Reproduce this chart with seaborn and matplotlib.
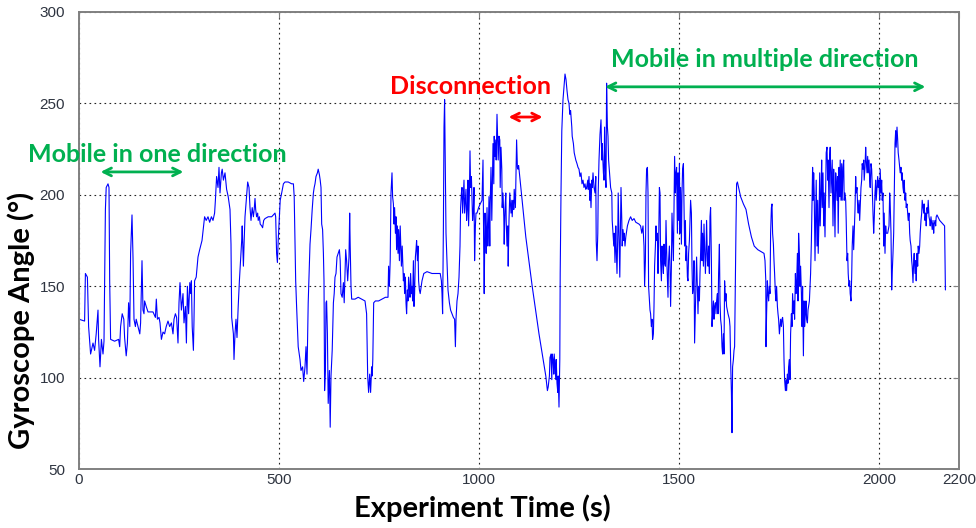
import pandas as pd
import seaborn as sns
import matplotlib.pyplot as plt

# gyroscope trace, (time s, angle deg), split in chunks
seg_a = [(0,132),(14,131),(16,157),(21,155),(24,128),(29,113),(35,119),(39,115),(43,124),(47.5,137),(49,121),(52.5,106),
         (56,121),(60,113),(62.5,120),(66,192),(68,204),(72.5,206),(75,204),(76.7,153),(79,121),(89,120),(99,121),
         (101.7,117),(104,128),(108,135),(112,132),(114,122),(118,112),(121,119),(124,141),(127,128),(129,168),
         (132.5,189),(135,166),(137.5,132),(141,128),(143,132),(147.5,128),(152,124),(154,130),(157.5,164),(160,137),
         (162.5,135),(164,142),(168,139),(172.5,136),(185,136),(191,133),(193.3,143),(196,132),(200,133),(202.5,130),
         (206,121),(210,125),(214,124),(218,128),(222.5,131),(226.7,128),(231,130),(235,124),(237.5,132),(241,135),
         (244,133),(247.5,119),(250,141),(252.5,152),(256,137),(260,146),(262.5,130),(266,139),(268.5,119),(271,150),
         (274,135),(277,152),(279,146),(281,153),(283,128),(286,115),(287.5,132),(289,153),(293,155),(297.5,166),
         (301.7,170),(307.5,175),(314,188),(318,186),(322.5,188),(326.7,185),(331,188),(335,186),(339,190),(341,197),
         (344,210),(347.5,204),(350,215),(352.5,201),(356,212),(358,214),(361,208)]
seg_b = [(365,212),(369,203),(373,199),(377.5,192),(380,173),(381.7,133),(386,124),(387.5,110),(390,124),(392.5,132),
         (395,122),(398,139),(401,153),(403,161),(406.7,175),(408,183),(411,161),(412.5,172),(415,188),(419,199),
         (421.7,207),(425,204),(427.5,193),(430,186),(433,193),(436,188),(438,192),(440,198),(441.7,192),(444,188),
         (446.7,190),(448,186),(451,188),(453,184),(456.7,183),(459,182),(461.7,186),(465,187),(473,188),(481.7,188),
         (490,190),(491.7,188),(494,168),(496,163),(498,175),(501,188),(503,197),(506.7,201),(511,206),(515,207),
         (523,207),(531.7,206),(536,206),(538,199),(541.7,153),(544,139),(548,117),(552.5,110),(555,104),(559,106),
         (561.7,98),(565,106),(567.5,117),(570,102),(573,141),(577.5,173),(580,181),(583,192),(586,201),(588,204),
         (590,206),(592.5,210),(596,212),(598,214),(601,211),(603,208),(605,204),(606.7,184),(609,181),(611,168),
         (612.5,153),(614,93),(616,104),(617.5,141),(619,142),(621,124),(623,86),(626,104),(628,73),(630,101),(633,115),
         (636,141),(638,146),(640,155),(642.5,157),(645,166),(648,168),(651,170),(653,164),(655,146),(658,144),(661,152),
         (663,141),(666.7,170),(669,164),(671.7,153),(675,166),(676.7,190),(678,172),(680,150),(681.7,143),(690,143),
         (698,144),(706.7,143),(715,142),(719,135),(721.7,101),(724,92),(726.7,102),(729,92),(731.7,106),(733,101)]
seg_c = [(734.5,110),(736.7,141),(741,142),(749,142),(757.5,143),(766,144),(772.5,144),(774,161),(776,150),(778,164),
         (780,201),(782.5,212),(784,199),(786,195),(787.5,184),(789,193),(791,179),(792.5,188),(794,170),(796,183),
         (797.5,168),(799,181),(801,164),(803,183),(806,161),(808,172),(811,153),(812.5,157),(814,146),(816,155),
         (817.5,141),(819,135),(821,148),(822.5,142),(824,155),(826,148),(827.5,144),(829,157),(831,146),(832.5,150),
         (834,142),(836,164),(837.5,139),(839,146),(841,166),(842.5,170),(844,175),(846,164),(847.5,172),(849,153),
         (851,148),(853,146),(857.5,153),(862,157),(870,158),(882.5,157),(895,157),(903,157),(906,153),(907.5,146),
         (909,135),(911,183),(912.5,237),(914,252),(916,212),(917.5,179),(920,164),(922.5,148),(926,141),(929,137),
         (932.5,135),(936,133),(939,132),(941,117),(942.5,132),(945,142),(947.5,146),(950,155),(952.5,172),(954,193),
         (956,201),(957.5,204),(959,190),(961,201),(962.5,208),(964,190),(966,197),(967.5,203),(969,186),(971,193),
         (972.5,208),(974,183),(976,201),(977.5,224),(979,204),(981,210),(982.5,197),(984,186),(986,192),(987.5,204),
         (989,164),(991,183),(992.5,190),(995,190),(999,193),(1003,195),(1007.5,197),(1010,219),(1011.7,172),(1013,146),
         (1015,190),(1017,179),(1018,168),(1020,193),(1022,172),(1023,177),(1025,199),(1027,172),(1028,195),(1030,215),
         (1032,186),(1033,201),(1035,228),(1037,206),(1038,232),(1040,221),(1042,230),(1043,219),(1045,244),(1047,226),
         (1048,219),(1050,232),(1052,230),(1053,204),(1055,226),(1057,214),(1058,193),(1060,201),(1062,188),(1063,173),
         (1065,192),(1067,201),(1068,186),(1070,172),(1072,183),(1073,161),(1075,186),(1077,201),(1078,197),(1080,190),
         (1082,197),(1083,188),(1085,197),(1087,192),(1088,203),(1091,193),(1092.5,210),(1094,230),(1096,215),
         (1097.5,214),(1099,216)]
seg_d = [(1100,214),(1117,177),(1133,150),(1150,124),(1167,101),(1171,93),(1173,95),(1176,101),(1177.5,111),(1180,113),
         (1182,99),(1183,113),(1185,110),(1187,102),(1188,113),(1190,106),(1192,99),(1193,110),(1195,97),(1197,92),
         (1198,101),(1200,84),(1202,110),(1203,157),(1205,201),(1207,235),(1208,241),(1210,252),(1212.5,259),(1215,266),
         (1217.5,263),(1220,257),(1222.5,252),(1225,250),(1227,244),(1229,246),(1232,237),(1233,232),(1236,228),(1238,223),
         (1242,219),(1245,217),(1247.5,215),(1250,214),(1252.5,210),(1255,212),(1257.5,206),(1260,208),(1262.5,204),
         (1265,206),(1267,203),(1269,204),(1272,208),(1273,203),(1275,210),(1277,197),(1278,206),(1280,193),(1282,208),
         (1283,204),(1285,212),(1287.5,204),(1290,201),(1292,210),(1293,175),(1295,164),(1297,179),(1298,201),(1300,219),
         (1302.5,233),(1305,241),(1307,219),(1308,228),(1311,212),(1312.5,208),(1314,237),(1316,210),(1317.5,204),
         (1319,261),(1321,237),(1322.5,232),(1324,219),(1327,210),(1329,204),(1332,201),(1333,186),(1335,179),(1337,172),
         (1338,179),(1340,163),(1342,183),(1343,172),(1345,157),(1347,179),(1348,201),(1350,179),(1352,155),(1353,173),
         (1355,204),(1357,186),(1358,172),(1360,181),(1362,175),(1363,179),(1365,172),(1367,177),(1371,183),(1375,186),
         (1379,188),(1383,186),(1387.5,187),(1392,185),(1400,184),(1404,183),(1407,179),(1410,183),(1412.5,172),
         (1414,150),(1416,164),(1417.5,201),(1419,214),(1421,215),(1422.5,201),(1424,150),(1426,142),(1427.5,137),
         (1429,135),(1431,128),(1432.5,132),(1434,121),(1436,124),(1437.5,139),(1439,161),(1441,172),(1442.5,183),
         (1444,175),(1446,179),(1447.5,157),(1449,172),(1451,204),(1452.5,201),(1454,164),(1456,153),(1457.5,172),
         (1459,164),(1461,157),(1462.5,173),(1464,163),(1466,161)]
seg_e = [(1467.5,186),(1470,161),(1472.5,144),(1474,164),(1476,172),(1477.5,161),(1479,139),(1481,161),(1482.5,190),
         (1484,179),(1486,164),(1487.5,195),(1489,221),(1491,201),(1492.5,212),(1494,215),(1496,179),(1497.5,212),
         (1499,186),(1501,217),(1502.5,179),(1504,204),(1506,173),(1507.5,201),(1509,214),(1511,217),(1512.5,193),
         (1514,172),(1516,186),(1517.5,164),(1519,172),(1521,155),(1522.5,153),(1524,168),(1526,175),(1527.5,186),
         (1529,197),(1531,190),(1532.5,161),(1534,146),(1536,150),(1537.5,164),(1539,119),(1541,137),(1542.5,153),
         (1544,166),(1546,148),(1547.5,135),(1549,150),(1551,142),(1552.5,157),(1554,168),(1556,186),(1557.5,164),
         (1559,179),(1561,161),(1562.5,184),(1564,172),(1566,157),(1567.5,168),(1569,186),(1571,164),(1572.5,161),
         (1574,172),(1576,157),(1577.5,188),(1579,193),(1581,164),(1582.5,128),(1584,135),(1586,142),(1587.5,132),
         (1589,139),(1591,141),(1592.5,135),(1594,142),(1596,146),(1597.5,135),(1599,157),(1601,173),(1602.5,142),
         (1604,132),(1606,128),(1607.5,117),(1609,113),(1611,124),(1612.5,113),(1614,153),(1616,142),(1617.5,146),
         (1619,139),(1622.5,135),(1626,132),(1627.5,128),(1629,110),(1631,92),(1632.5,70),(1634,106),(1636,110),
         (1637.5,115),(1639,117),(1641,157),(1642.5,183),(1644,206),(1646,207),(1649,204),(1654,199),(1661,195),
         (1667.5,192),(1674,184),(1681,177),(1688,172),(1697,170),(1705,169),(1712.5,168),(1715,164),(1717,153),
         (1717.5,117),(1719,135),(1721,153),(1722.5,146),(1724,142),(1726,150),(1727.5,146),(1729,179),(1731,193),
         (1732.5,195),(1734,179),(1736,173),(1737.5,164),(1739,157),(1741,146),(1742.5,142),(1744,150),(1746,139),
         (1747.5,135),(1749,132),(1751,124),(1752.5,128),(1754,132),(1756,128),(1757.5,132),(1759,133),(1761,128),
         (1762.5,110),(1764,99),(1766,93),(1767.5,99),(1769,93),(1771,102),(1772.5,97),(1774,106),(1776,110),
         (1777.5,99),(1779,124),(1781,135),(1782.5,128),(1784,146),(1786,135),(1787.5,142),(1789,132),(1791,157),
         (1792.5,146),(1794,150),(1796,168),(1797.5,142),(1799,179),(1801,168),(1802.5,150),(1804,161),(1806,146),
         (1807.5,128),(1809,150),(1811,112),(1812.5,142),(1814,128),(1816,135),(1817.5,142),(1819,132),(1821,130),
         (1822.5,137),(1824,139),(1826,142),(1827.5,150),(1829,157),(1831,175),(1832.5,197),(1834,215)]
seg_f = [(1835,197),(1836.7,212),(1838,201),(1840,164),(1841.7,190),(1843,208),(1845,172),(1846.7,197),(1848,168),
         (1850,186),(1851.7,212),(1853,183),(1855,201),(1856.7,219),(1858,193),(1860,212),(1861.7,183),(1863,201),
         (1865,177),(1866.7,204),(1868,223),(1870,226),(1871.7,208),(1873,219),(1875,193),(1876.7,221),(1878,226),
         (1880,201),(1881.7,212),(1883,219),(1885,183),(1886.7,214),(1888,204),(1890,177),(1891.7,212),(1893,208),
         (1895,197),(1896.7,210),(1898,179),(1900,215),(1901.7,199),(1903,219),(1905,197),(1906.7,217),(1908,197),
         (1910,215),(1911.7,219),(1913,197),(1915,201),(1916.7,197),(1918,186),(1920,164),(1921.7,168),(1923,157),
         (1925,150),(1926.7,153),(1928,146),(1930,142),(1931.7,155),(1933,172),(1935,183),(1936.7,170),(1938,179),
         (1940,192),(1941.7,210),(1943,201),(1945,204),(1946.7,193),(1948,190),(1950,197),(1951.7,186),(1953,193),
         (1955,204),(1956.7,208),(1958,217),(1960,214),(1961.7,219),(1963,208),(1965,215),(1966.7,226),(1968,219),
         (1970,212),(1971.7,221),(1973,212),(1975,219),(1976.7,208),(1978,204),(1980,217),(1981.7,214),(1983,204),
         (1985,190),(1986.7,179),(1988,186),(1990,201),(1991.7,208),(1993,197),(1995,204),(1996.7,210),(1998,204),
         (2000,208),(2001.7,197),(2003,214),(2005,201),(2006.7,208),(2008,197),(2010,201),(2011.7,172),(2013,190),
         (2015,168),(2016.7,183),(2018,179),(2021.7,179),(2025,183),(2026.7,201),(2028,195),(2030,179),(2031.7,148),
         (2033,157),(2035,168),(2036.7,179),(2038,197),(2040,228),(2041.7,235),(2043,226),(2045,237),(2046.7,230),
         (2048,223),(2050,219),(2051.7,215),(2053,212),(2055,215),(2056.7,208),(2058,212),(2060,204),(2061.7,201),
         (2063,208),(2065,197),(2066.7,201),(2068,193),(2070,195),(2071.7,190),(2073,186),(2075,190),(2076.7,179),
         (2078,175),(2080,172),(2081.7,164),(2083,161),(2085,152),(2086.7,164),(2088,168),(2090,157),(2091.7,164),
         (2093,153),(2095,168),(2096.7,161),(2098,172),(2100,168),(2101.7,172),(2103,179),(2105,186),(2106.7,190),
         (2108,197),(2110,193),(2111.7,190),(2113,195),(2115,186),(2116.7,190),(2118,183),(2120,193),(2121.7,190),
         (2123,197),(2125,188),(2126.7,186),(2128,183),(2130,188),(2131.7,184),(2133,181),(2135,186),(2136.7,179),
         (2138,184),(2140,186),(2141.7,183),(2143,188),(2145,189),(2151.7,186),(2160,184),(2164,183),(2166,148)]

x_ticks = [0, 500, 1000, 1500, 2000, 2200]
y_ticks = [50, 100, 150, 200, 250, 300]

df = pd.DataFrame(seg_a + seg_b + seg_c + seg_d + seg_e + seg_f, columns=['time', 'angle'])

sns.set_style('white')
plt.rcParams['font.family'] = ['Liberation Sans Narrow', 'Liberation Sans', 'DejaVu Sans']

fig = plt.figure(figsize=(9.76, 5.28), dpi=100)
ax = fig.add_axes([79/976, 1 - 469.3/528, 880/976, 457.5/528])

sns.lineplot(data=df, x='time', y='angle', estimator=None, sort=False, color='#0000ff', linewidth=0.8, ax=ax)

ax.set_xlim(0, 2200)
ax.set_ylim(50, 300)
ax.set_xticks(x_ticks)
ax.set_yticks(y_ticks)
ax.grid(True, color='#222222', linestyle=(0, (1.5, 3)), linewidth=0.8)
for s in ax.spines.values():
    s.set_color('#808080')
    s.set_linewidth(1.4)
ax.tick_params(direction='in', length=4, color='#808080', labelsize=11, labelcolor='#2e3440',
               top=True, right=True)
ax.tick_params(axis='y', pad=10)
ax.tick_params(axis='x', pad=3)

lab = dict(fontsize=21, fontweight='bold', family='Lato', color='black')
ax.set_xlabel('Experiment Time (s)', **lab)
ax.set_ylabel('Gyroscope Angle (°)', **lab)
ax.xaxis.set_label_coords(0.458, -0.055)
ax.yaxis.set_label_coords(-0.05, 0.326)

# annotations
green = '#00b050'
red = '#ff0000'
note = dict(fontsize=18, fontweight='bold', family='Lato', ha='center', va='center')
ax.text(195, 222, 'Mobile in one direction', color=green, **note)
ax.text(978, 259, 'Disconnection', color=red, **note)
ax.text(1715, 274, 'Mobile in multiple direction', color=green, **note)
arr = dict(arrowstyle='<->', lw=2, mutation_scale=14)
ax.annotate('', xy=(47, 212.5), xytext=(268, 212.5), arrowprops=dict(color=green, **arr))
ax.annotate('', xy=(1067, 242.5), xytext=(1166, 242.5), arrowprops=dict(color=red, **arr))
ax.annotate('', xy=(1308, 259), xytext=(2123, 259), arrowprops=dict(color=green, **arr))

fig.savefig('out.png', dpi=100)
